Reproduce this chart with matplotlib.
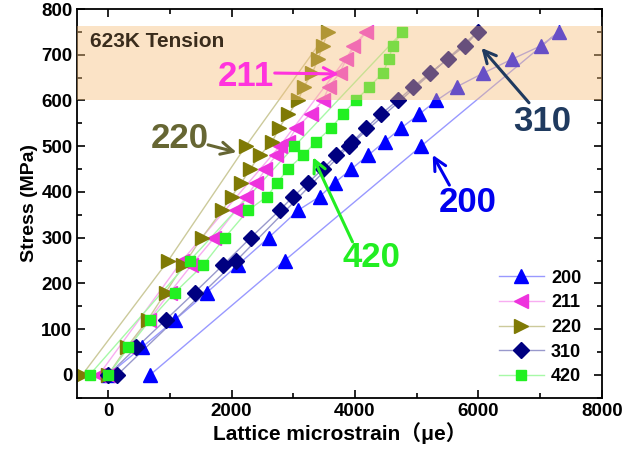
import matplotlib
matplotlib.use("Agg")
import matplotlib.pyplot as plt
from matplotlib.colors import to_rgb
from matplotlib.ticker import MultipleLocator

plt.rcParams['font.family'] = ['Liberation Sans', 'Noto Sans CJK SC', 'DejaVu Sans']
plt.rcParams['font.weight'] = 'bold'

# Applied stress: loading steps, then unloading (MPa)
stress = [0, 60, 120, 180, 240, 300, 360, 390, 420, 450, 480, 510, 540, 570,
          600, 630, 660, 690, 720, 750, 500, 250, 0]

# Lattice microstrain for each grain family (same order as stress)
strain_200 = [0, 545, 1080, 1600, 2100, 2600, 3080, 3430, 3670, 3940, 4210, 4480,
              4750, 5040, 5320, 5650, 6080, 6540, 7020, 7300, 5070, 2860, 680]
strain_211 = [0, 320, 660, 1000, 1350, 1720, 2070, 2240, 2400, 2550, 2720, 2910,
              3050, 3280, 3480, 3580, 3750, 3860, 3975, 4180, 2780, 1200, -150]
strain_220 = [0, 300, 640, 930, 1220, 1520, 1850, 2000, 2160, 2300, 2460, 2660,
              2770, 2920, 3080, 3170, 3310, 3400, 3480, 3560, 2230, 975, -420]
strain_310 = [0, 460, 930, 1400, 1860, 2310, 2780, 3000, 3240, 3475, 3700, 3960,
              4185, 4420, 4690, 4945, 5215, 5500, 5785, 5990, 3900, 2080, 150]
strain_420 = [0, 330, 680, 1080, 1540, 1890, 2270, 2575, 2740, 2910, 3160, 3370,
              3615, 3800, 4010, 4235, 4450, 4550, 4610, 4770, 3020, 1325, -300]

labels = ['200', '211', '220', '310', '420']
series = [strain_200, strain_211, strain_220, strain_310, strain_420]
colors = ['#0000FF', '#EE33DD', '#7F7A05', '#000080', '#22F022']
markers = ['^', '<', '>', 'D', 's']
sizes = [9.5, 9.5, 9.5, 8, 7.5]


def light(c, f=0.4):
    # mix colour with white, for the thin connecting lines
    r, g, b = to_rgb(c)
    return (1 - f + f * r, 1 - f + f * g, 1 - f + f * b)


fig, ax = plt.subplots(figsize=(6.23, 4.51), dpi=100)
fig.subplots_adjust(left=0.124, right=0.966, bottom=0.118, top=0.98)

# thin connecting lines first, markers on top
for x, c in zip(series, colors):
    ax.plot(x, stress, '-', color=light(c), lw=1.0, zorder=2)
for x, c, m, s, lab in zip(series, colors, markers, sizes, labels):
    ax.plot(x, stress, linestyle='none', marker=m, ms=s, color=c, mec=c, zorder=2.2)
    # legend proxy: light line + full colour marker
    ax.plot([], [], '-', color=light(c), lw=1.0, marker=m, ms=s, mfc=c, mec=c,
            label=lab)

ax.legend(loc='lower right', bbox_to_anchor=(0.985, 0.0), frameon=False,
          fontsize=13, handlelength=2.5, handletextpad=0.4,
          labelspacing=0.42, borderaxespad=0.3)

# test band (translucent, laid over the markers)
ax.axhspan(600, 762, color='#F7BE78', alpha=0.42, lw=0, zorder=3)
ax.text(-300, 730, '623K Tension', fontsize=15, fontweight='bold',
        color='#3a2c1c', ha='left', va='center', zorder=4)

# labelled arrows
notes = [
    ('211', '#FF33DD', (2240, 652), (2700, 660), (3740, 658)),
    ('220', '#666633', (1160, 516), (1620, 503), (2080, 487)),
    ('420', '#22EE22', (4270, 256), (3960, 291), (3320, 476)),
    ('310', '#1F3A5F', (7030, 553), (6820, 595), (6050, 715)),
    ('200', '#0000EE', (5820, 378), (5530, 415), (5260, 481)),
]
for txt, c, tpos, tail, head in notes:
    ax.text(tpos[0], tpos[1], txt, color=c, fontsize=25, fontweight='bold',
            ha='center', va='center', zorder=5)
    ax.annotate('', xy=head, xytext=tail, zorder=5,
                arrowprops=dict(arrowstyle='->', color=c, lw=2.2,
                                mutation_scale=22, shrinkA=0, shrinkB=0))

ax.set_xlim(-500, 8000)
ax.set_ylim(-50, 800)
ax.xaxis.set_major_locator(MultipleLocator(2000))
ax.xaxis.set_minor_locator(MultipleLocator(1000))
ax.yaxis.set_major_locator(MultipleLocator(100))
ax.yaxis.set_minor_locator(MultipleLocator(50))
ax.tick_params(which='both', direction='in', top=True, right=True,
               labelsize=13.5, width=1.2)
ax.tick_params(which='major', length=6)
ax.tick_params(which='minor', length=3.5)
for lab in ax.get_xticklabels() + ax.get_yticklabels():
    lab.set_fontweight('bold')
for sp in ax.spines.values():
    sp.set_linewidth(1.3)

ax.set_xlabel('Lattice microstrain（μe）', fontsize=15, fontweight='bold', labelpad=2)
ax.set_ylabel('Stress (MPa)', fontsize=14, fontweight='bold', labelpad=2)

plt.savefig('out.png', dpi=100)
